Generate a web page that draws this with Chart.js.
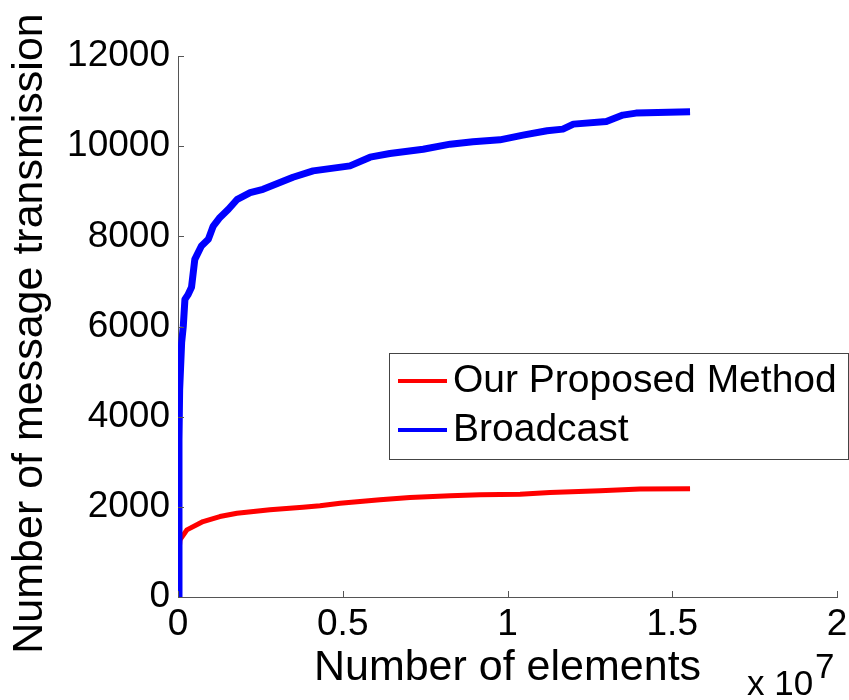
<!DOCTYPE html>
<html>
<head>
<meta charset="utf-8">
<script src="https://cdn.jsdelivr.net/npm/chart.js@4/dist/chart.umd.min.js"></script>
<style>
  html, body { margin: 0; padding: 0; background: #fff; }
  #wrap { width: 849px; height: 700px; position: relative; }
</style>
</head>
<body>
<div id="wrap"><canvas id="msgChart"></canvas></div>
<script>
// number of elements, in units of 1e7
const proposedX = [0, 0.001, 0.006, 0.027, 0.076, 0.127, 0.179, 0.279, 0.379, 0.431, 0.492, 0.613, 0.704, 0.826, 0.917, 1.038, 1.129, 1.281, 1.402, 1.554];
const proposedY = [0, 820, 1267, 1489, 1674, 1785, 1859, 1933, 1993, 2022, 2081, 2156, 2207, 2244, 2267, 2281, 2319, 2356, 2393, 2400];

const broadcastX = [0.002, 0.003, 0.005, 0.011, 0.016, 0.021, 0.030, 0.041, 0.051, 0.071, 0.092, 0.107, 0.125, 0.153, 0.180, 0.219, 0.258, 0.349, 0.41, 0.522, 0.583, 0.643, 0.744, 0.826, 0.895, 0.977, 1.047, 1.12, 1.168, 1.2, 1.30, 1.35, 1.39, 1.554];
const broadcastY = [0, 3500, 4600, 5640, 6000, 6600, 6700, 6870, 7490, 7785, 7933, 8229, 8400, 8600, 8822, 8970, 9044, 9311, 9452, 9563, 9756, 9837, 9933, 10044, 10096, 10141, 10244, 10341, 10378, 10489, 10548, 10689, 10733, 10763];

const xTicks = [0, 0.5, 1, 1.5, 2];
const yTicks = [0, 2000, 4000, 6000, 8000, 10000, 12000];

const FONT = "'Liberation Sans', Arial, sans-serif";
const axisColor = '#555';

const toPoints = (xs, ys) => xs.map((x, i) => ({ x, y: ys[i] }));

// MATLAB-style ticks pointing into the plot
const innerTicks = {
  id: 'innerTicks',
  afterDatasetsDraw(chart) {
    const { ctx, chartArea, scales: { x, y } } = chart;
    ctx.save();
    ctx.strokeStyle = axisColor;
    ctx.lineWidth = 1;
    ctx.beginPath();
    x.ticks.forEach(t => {
      const px = Math.round(x.getPixelForValue(t.value)) + 0.5;
      ctx.moveTo(px, chartArea.bottom);
      ctx.lineTo(px, chartArea.bottom - 6);
    });
    y.ticks.forEach(t => {
      const py = Math.round(y.getPixelForValue(t.value)) + 0.5;
      ctx.moveTo(chartArea.left, py);
      ctx.lineTo(chartArea.left + 6, py);
    });
    ctx.stroke();
    ctx.restore();
  }
};

// y label drawn by hand so it can sit a little lower than the axis centre
const yLabel = {
  id: 'yLabel',
  afterDraw(chart) {
    const { ctx, chartArea } = chart;
    ctx.save();
    ctx.translate(30, (chartArea.top + chartArea.bottom) / 2 + 7);
    ctx.rotate(-Math.PI / 2);
    ctx.font = '43px ' + FONT;
    ctx.fillStyle = '#000';
    ctx.textAlign = 'center';
    ctx.textBaseline = 'middle';
    ctx.fillText('Number of message transmission', 0, 0);
    ctx.restore();
  }
};

// boxed legend inside the axes plus the "x 10^7" multiplier
const boxLegend = {
  id: 'boxLegend',
  afterDraw(chart) {
    const { ctx } = chart;
    const box = { x: 389.5, y: 353.5, w: 459, h: 106 };
    ctx.save();
    ctx.fillStyle = '#fff';
    ctx.fillRect(box.x, box.y, box.w, box.h);
    ctx.strokeStyle = '#444';
    ctx.lineWidth = 1;
    ctx.strokeRect(box.x, box.y, box.w, box.h);
    ctx.font = '39px ' + FONT;
    ctx.textBaseline = 'middle';
    ctx.textAlign = 'left';
    chart.data.datasets.forEach((ds, i) => {
      const rowY = 381 + i * 49;
      ctx.strokeStyle = ds.borderColor;
      ctx.lineWidth = 4;
      ctx.beginPath();
      ctx.moveTo(398, rowY);
      ctx.lineTo(447, rowY);
      ctx.stroke();
      ctx.fillStyle = '#000';
      ctx.fillText(ds.label, 453, rowY);
    });

    ctx.textBaseline = 'alphabetic';
    ctx.font = '35px ' + FONT;
    ctx.fillText('x 10', 747, 695);
    ctx.fillText('7', 815, 678);
    ctx.restore();
  }
};

new Chart(document.getElementById('msgChart'), {
  type: 'line',
  data: {
    datasets: [
      {
        label: 'Our Proposed Method',
        data: toPoints(proposedX, proposedY),
        borderColor: '#ff0000',
        borderWidth: 5,
        order: 1
      },
      {
        label: 'Broadcast',
        data: toPoints(broadcastX, broadcastY),
        borderColor: '#0000ff',
        borderWidth: 7,
        order: 0
      }
    ]
  },
  options: {
    responsive: true,
    maintainAspectRatio: false,
    animation: false,
    layout: { padding: { left: 0, right: 12, top: 56, bottom: 0 } },
    elements: {
      point: { radius: 0 },
      line: { tension: 0, borderJoinStyle: 'round', fill: false }
    },
    plugins: {
      legend: { display: false },
      tooltip: { enabled: false }
    },
    scales: {
      x: {
        type: 'linear',
        min: 0,
        max: 2,
        afterBuildTicks: s => { s.ticks = xTicks.map(v => ({ value: v })); },
        afterFit: s => {
          s.height = 103;
          s.paddingLeft = 0;
          s.paddingRight = 0;
        },
        grid: { display: false, drawTicks: false },
        border: { display: true, color: axisColor, width: 1 },
        ticks: {
          padding: 6,
          color: '#000',
          font: { family: FONT, size: 37 },
          maxRotation: 0,
          callback: v => String(v)
        },
        title: {
          display: true,
          text: 'Number of elements',
          color: '#000',
          font: { family: FONT, size: 43 },
          padding: { top: 0, bottom: 6 }
        }
      },
      y: {
        min: 0,
        max: 12000,
        afterBuildTicks: s => { s.ticks = yTicks.map(v => ({ value: v })); },
        afterFit: s => { s.width = 178; },
        grid: { display: false, drawTicks: false },
        border: { display: true, color: axisColor, width: 1 },
        ticks: {
          padding: 8,
          color: '#000',
          font: { family: FONT, size: 37 },
          callback: v => String(v)
        }
      }
    }
  },
  plugins: [innerTicks, yLabel, boxLegend]
});
</script>
</body>
</html>
